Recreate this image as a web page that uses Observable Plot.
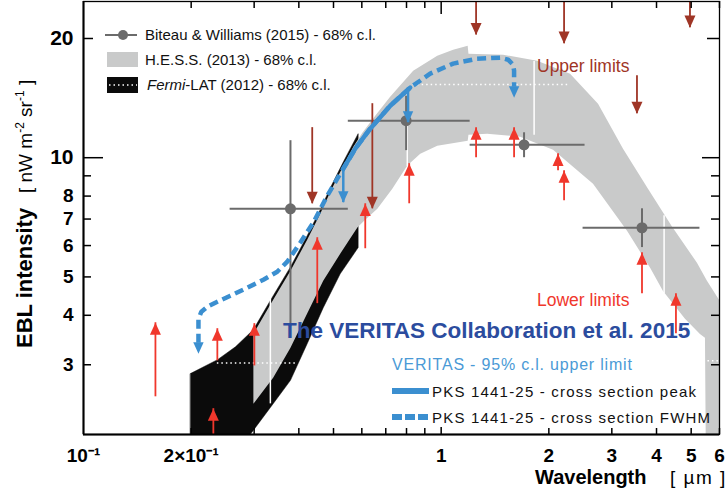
<!DOCTYPE html>
<html><head><meta charset="utf-8">
<script src="https://cdn.jsdelivr.net/npm/d3@7"></script>
<script src="https://cdn.jsdelivr.net/npm/@observablehq/plot@0.6"></script>
<style>
html,body{margin:0;padding:0;background:#fff;}
#chart{width:726px;height:492px;}
svg{font-family:"Liberation Sans",Arial,sans-serif;}
</style></head><body><div id="chart"></div>
<script>
// ---------- data (wavelength in µm, EBL intensity in nW m^-2 sr^-1) ----------
const fermiUpper = [[0.199,2.85],[0.237,3.09],[0.266,3.33],[0.2985,3.68],[0.333,4.36],[0.379,5.30],[0.422,6.35],[0.459,7.39],[0.490,8.40],[0.533,9.77],[0.568,10.9],[0.586,11.5]];
const fermiLower = [[0.199,1.25],[0.2985,2.05],[0.333,2.34],[0.379,2.74],[0.422,3.39],[0.468,4.18],[0.522,5.09],[0.586,5.93]];
const hessUpper = [[0.2985,3.59],[0.333,4.26],[0.379,5.18],[0.422,6.21],[0.459,7.22],[0.490,8.21],[0.533,9.55],[0.568,10.66],[0.602,11.56],[0.654,12.77],[0.720,14.26],[0.835,16.59],[0.975,18.10],[1.080,18.74],[1.186,19.18],[1.192,18.31],[1.49,18.20],[1.854,17.58],[2.293,16.30],[2.745,13.69],[3.224,10.54],[3.786,8.35],[4.418,6.70],[5.189,5.43],[5.534,4.89],[6.0,4.36]];
const hessLower = [[0.2985,2.39],[0.339,2.78],[0.379,3.31],[0.422,4.04],[0.468,4.89],[0.522,5.72],[0.583,6.66],[0.613,6.97],[0.663,7.43],[0.730,8.35],[0.804,9.55],[0.874,10.23],[0.975,10.72],[1.186,11.04],[1.192,11.43],[1.344,11.50],[1.662,11.30],[2.055,10.48],[2.658,8.60],[3.308,6.54],[3.835,5.28],[4.170,4.61],[4.804,3.92],[5.290,3.59],[5.464,3.51],[5.50,1.6],[6.0,1.6]];
// white dotted reference lines
const dotY  = [3.03, 15.3, 3.07];
const dotX1 = [0.2367, 0.835, 5.57];
const dotX2 = [0.396, 2.263, 6.0];
// white vertical separators in the H.E.S.S. band
const sepX  = [0.333, 0.804, 1.819, 4.2];
const sepY1 = [2.39, 9.5, 11.4, 4.535];
const sepY2 = [4.535, 14.5, 17.5, 7.14];
// Biteau & Williams (2015)
const bwX   = [0.379, 0.798, 1.705, 3.643];
const bwY   = [7.43, 12.40, 10.78, 6.655];
const bwXlo = [0.257, 0.550, 1.205, 2.493];
const bwXhi = [0.550, 1.205, 2.525, 5.29];
const bwYlo = [3.81, 10.42, 10.0, 5.93];
const bwYhi = [11.04, 14.3, 11.56, 7.43];
// upper limits (arrows down)
const ulX    = [0.436, 0.642, 1.252, 2.206, 3.527, 4.961];
const ulFrom = [11.91, 13.69, 30, 30, 16.11, 30];
const ulTo   = [7.65, 7.43, 20.4, 19.41, 12.91, 21.3];
// lower limits (arrows up)
const llX    = [0.1589, 0.2307, 0.2367, 0.3004, 0.4504, 0.6134, 0.814, 1.252, 1.599, 2.122, 2.206, 3.643, 4.533];
const llFrom = [2.49, 1.9, 3.07, 2.98, 4.28, 5.89, 7.65, 10.0, 10.0, 9.27, 7.79, 4.535, 3.594];
const llTo   = [3.83, 2.324, 3.70, 3.81, 6.28, 7.65, 9.66, 11.91, 11.91, 10.23, 9.27, 5.755, 4.535];
// VERITAS PKS 1441+25 limits
const fwhmPath = [[0.2096,3.411],[0.2096,3.921],[0.2136,4.084],[0.2220,4.204],[0.2337,4.303],[0.2574,4.482],[0.2871,4.696],[0.3184,4.919],[0.3481,5.153],[0.3713,5.464],[0.4037,6.102],[0.4389,6.853],[0.4803,8.017],[0.5123,8.851],[0.5325,9.38],[0.5751,10.54],[0.6333,11.84],[0.7204,13.53],[0.8192,15.03],[0.9317,16.30],[1.080,17.28],[1.260,17.78],[1.462,17.89],[1.539,17.68],[1.589,17.17],[1.599,16.59],[1.599,15.11]];
const fwhmTipX = [0.2096, 1.599];
const fwhmTipY = [3.20, 14.18];
const peakPath = [[0.5325,9.38],[0.5751,10.54],[0.6333,11.84],[0.7204,13.53],[0.8192,15.03]];
const peakDropX = [0.5325, 0.808];
const peakDropFrom = [9.38, 15.03];
const peakDropTo = [7.70, 12.26];
// axes
const xMinorTicks = [0.2,0.3,0.4,0.5,0.6,0.7,0.8,0.9,2,3,4,5,6];
const xLabelTicks = [0.1,0.2,1,2,3,4,5,6];
const yMinorTicks = [3,4,5,6,7,8,9];
const yLabelMajor = [10,20];
const yLabelMinor = [3,4,5,6,7,8];

// ---------- styling ----------
const GREY_BAND = "#c9caca", BLACK = "#0b0b0b", BW = "#6b6b6b";
const DR = "#9f3526", RED = "#f0372c", BLUE = "#3b8fd0";
const W = 726, H = 492, ML = 83, MR = 7, MT = 1, MB = 58;
const FW = W - ML - MR, FH = H - MT - MB;

const arrowDown = {draw(ctx, size){const r=Math.sqrt(size/Math.PI), w=r, h=r*2.2; ctx.moveTo(0,0); ctx.lineTo(-w,-h); ctx.lineTo(w,-h); ctx.closePath();}};
const arrowUp = {draw(ctx, size){const r=Math.sqrt(size/Math.PI), w=r, h=r*2.2; ctx.moveTo(0,0); ctx.lineTo(-w,h); ctx.lineTo(w,h); ctx.closePath();}};

const pt = d => ({x: d[0], y: d[1]});
const fermiPoly = fermiUpper.concat(fermiLower.slice().reverse()).map(pt);
const hessPoly = hessUpper.concat(hessLower.slice().reverse()).map(pt);
const dots = dotY.map((y,i)=>({y, x1: dotX1[i], x2: dotX2[i]}));
const seps = sepX.map((x,i)=>({x, y1: sepY1[i], y2: sepY2[i]}));
const bw = bwX.map((x,i)=>({x, y: bwY[i], xlo: bwXlo[i], xhi: bwXhi[i], ylo: bwYlo[i], yhi: bwYhi[i]}));
const ul = ulX.map((x,i)=>({x, y1: ulFrom[i], y2: ulTo[i]}));
const ll = llX.map((x,i)=>({x, y1: llFrom[i], y2: llTo[i]}));
const fwhm = fwhmPath.map(pt);
const fwhmTips = fwhmTipX.map((x,i)=>({x, y: fwhmTipY[i]}));
const peak = peakPath.map(pt);
const drops = peakDropX.map((x,i)=>({x, y1: peakDropFrom[i], y2: peakDropTo[i]}));

const fmtX = d => d === 0.1 ? "10⁻¹" : d === 0.2 ? "2×10⁻¹" : String(d);

const svg = Plot.plot({
  width: W, height: H,
  marginLeft: ML, marginRight: MR, marginTop: MT, marginBottom: MB,
  x: {type: "log", domain: [0.1, 6]},
  y: {type: "log", domain: [2, 24.8]},
  style: {fontFamily: "Liberation Sans, Arial, sans-serif", background: "white", color: "black"},
  marks: [
    Plot.line(fermiPoly, {x: "x", y: "y", fill: BLACK, stroke: BLACK, strokeWidth: 0.5, curve: "linear-closed", clip: true}),
    Plot.line(hessPoly, {x: "x", y: "y", fill: GREY_BAND, stroke: "none", curve: "linear-closed", clip: true}),
    Plot.ruleY(dots, {y: "y", x1: "x1", x2: "x2", stroke: "white", strokeWidth: 1.6, strokeDasharray: "1.5,3", clip: true}),
    Plot.ruleX(seps, {x: "x", y1: "y1", y2: "y2", stroke: "white", strokeWidth: 1.5, clip: true}),
    // Biteau & Williams
    Plot.ruleY(bw, {y: "y", x1: "xlo", x2: "xhi", stroke: BW, strokeWidth: 2}),
    Plot.ruleX(bw, {x: "x", y1: "ylo", y2: "yhi", stroke: BW, strokeWidth: 2}),
    Plot.dot(bw, {x: "x", y: "y", r: 5.5, fill: BW, stroke: "none"}),
    // upper limits
    Plot.ruleX(ul, {x: "x", y1: "y1", y2: "y2", stroke: DR, strokeWidth: 1.8, clip: true}),
    Plot.dot(ul, {x: "x", y: "y2", r: 5.5, symbol: arrowDown, fill: DR, stroke: "none", clip: true}),
    // lower limits
    Plot.ruleX(ll, {x: "x", y1: "y1", y2: "y2", stroke: RED, strokeWidth: 1.8, clip: true}),
    Plot.dot(ll, {x: "x", y: "y2", r: 5.5, symbol: arrowUp, fill: RED, stroke: "none", clip: true}),
    // VERITAS
    Plot.line(fwhm, {x: "x", y: "y", stroke: BLUE, strokeWidth: 4.5, strokeDasharray: "9,5", strokeLinecap: "butt"}),
    Plot.dot(fwhmTips, {x: "x", y: "y", r: 5.2, symbol: arrowDown, fill: BLUE, stroke: "none"}),
    Plot.line(peak, {x: "x", y: "y", stroke: BLUE, strokeWidth: 4.5, strokeLinecap: "round"}),
    Plot.ruleX(drops, {x: "x", y1: "y1", y2: "y2", stroke: BLUE, strokeWidth: 2.5}),
    Plot.dot(drops, {x: "x", y: "y2", r: 5.2, symbol: arrowDown, fill: BLUE, stroke: "none"}),
    // frame & ticks
    Plot.frame({stroke: "black", strokeWidth: 1.3}),
    Plot.ruleX([0.1], {stroke: "black", strokeWidth: 2}),
    Plot.ruleY([2], {stroke: "black", strokeWidth: 2}),
    Plot.tickY(yMinorTicks, {y: d => d, stroke: "black", strokeWidth: 1.5, insetRight: FW - 8}),
    Plot.tickY([20], {y: d => d, stroke: "black", strokeWidth: 1.5, insetRight: FW - 10}),
    Plot.tickY([10], {y: d => d, stroke: "black", strokeWidth: 1.5, insetRight: FW - 20}),
    Plot.tickY(yMinorTicks, {y: d => d, stroke: "black", strokeWidth: 1.5, insetLeft: FW - 8}),
    Plot.tickY([20], {y: d => d, stroke: "black", strokeWidth: 1.5, insetLeft: FW - 12}),
    Plot.tickY([10], {y: d => d, stroke: "black", strokeWidth: 1.5, insetLeft: FW - 17}),
    Plot.tickX(xMinorTicks, {x: d => d, stroke: "black", strokeWidth: 1.5, insetTop: FH - 6}),
    Plot.tickX([1], {x: d => d, stroke: "black", strokeWidth: 1.5, insetTop: FH - 7}),
    Plot.tickX(xMinorTicks, {x: d => d, stroke: "black", strokeWidth: 1.5, insetBottom: FH - 7}),
    Plot.tickX([1], {x: d => d, stroke: "black", strokeWidth: 1.5, insetBottom: FH - 13}),
    Plot.axisX({ticks: xLabelTicks, tickSize: 0, tickPadding: 14, tickFormat: fmtX, label: null, fontSize: 19, fontWeight: "bold"}),
    Plot.axisY({ticks: yLabelMajor, tickSize: 0, tickPadding: 10, tickFormat: d => String(d), label: null, fontSize: 21, fontWeight: "bold"}),
    Plot.axisY({ticks: yLabelMinor, tickSize: 0, tickPadding: 10, tickFormat: d => String(d), label: null, fontSize: 19, fontWeight: "bold"})
  ]
});
document.getElementById("chart").appendChild(svg);

// ---------- legends, annotations and axis titles ----------
const g = d3.select(svg).append("g")
  .attr("font-family", "Liberation Sans, Arial, sans-serif")
  .attr("text-anchor", "start");
function txt(x, y, size, fill, str, opts = {}) {
  const t = g.append("text").attr("x", x).attr("y", y).attr("font-size", size).attr("fill", fill).attr("text-anchor", "start").text(str);
  if (opts.weight) t.attr("font-weight", opts.weight);
  if (opts.ls != null) t.attr("letter-spacing", opts.ls);
  return t;
}
// top-left legend
g.append("line").attr("x1", 105).attr("x2", 137).attr("y1", 35).attr("y2", 35).attr("stroke", BW).attr("stroke-width", 2);
g.append("circle").attr("cx", 123).attr("cy", 35).attr("r", 5).attr("fill", BW);
txt(145, 40, 15, "#111", "Biteau & Williams (2015) - 68% c.l.");
g.append("rect").attr("x", 107).attr("y", 52).attr("width", 31).attr("height", 15).attr("fill", GREY_BAND);
txt(145, 65, 15, "#111", "H.E.S.S. (2013) - 68% c.l.");
g.append("rect").attr("x", 107).attr("y", 77).attr("width", 31).attr("height", 16).attr("fill", BLACK);
g.append("line").attr("x1", 109).attr("x2", 137).attr("y1", 85).attr("y2", 85).attr("stroke", "white").attr("stroke-width", 1.5).attr("stroke-dasharray", "1.5,3");
const ft = txt(147, 90, 15, "#111", "");
ft.append("tspan").attr("font-style", "italic").text("Fermi");
ft.append("tspan").text("-LAT (2012) - 68% c.l.");
// limit labels
txt(537, 72, 17.5, DR, "Upper limits");
txt(537, 306, 17.5, RED, "Lower limits");
// VERITAS block
txt(283, 338, 22.5, "#2b4c9e", "The VERITAS Collaboration et al. 2015", {weight: "bold"});
txt(392, 370, 16, "#4a9ad6", "VERITAS - 95% c.l. upper limit", {ls: 0.8});
g.append("line").attr("x1", 392).attr("x2", 429).attr("y1", 391).attr("y2", 391).attr("stroke", BLUE).attr("stroke-width", 6);
txt(432, 397, 15, "#111", "PKS 1441-25 - cross section peak", {ls: 1.2});
g.append("line").attr("x1", 392).attr("x2", 429).attr("y1", 417).attr("y2", 417).attr("stroke", BLUE).attr("stroke-width", 6).attr("stroke-dasharray", "10,3");
txt(432, 423, 15, "#111", "PKS 1441-25 - cross section FWHM", {ls: 1.2});
// axis titles
txt(535, 484, 20, "#000", "Wavelength", {weight: "bold"});
txt(670, 484, 19, "#000", "[ µm ]", {ls: 1.5});
const yt1 = g.append("text").attr("text-anchor", "start").attr("transform", "translate(32,348) rotate(-90)").attr("font-size", 22).attr("font-weight", "bold").text("EBL intensity");
const yt2 = g.append("text").attr("text-anchor", "start").attr("transform", "translate(32,193) rotate(-90)").attr("font-size", 19);
yt2.append("tspan").text("[ nW m");
yt2.append("tspan").attr("font-size", 12).attr("dy", -8).text("-2");
yt2.append("tspan").attr("dy", 8).text(" sr");
yt2.append("tspan").attr("font-size", 12).attr("dy", -8).text("-1");
yt2.append("tspan").attr("dy", 8).text(" ]");
</script>
</body></html>
